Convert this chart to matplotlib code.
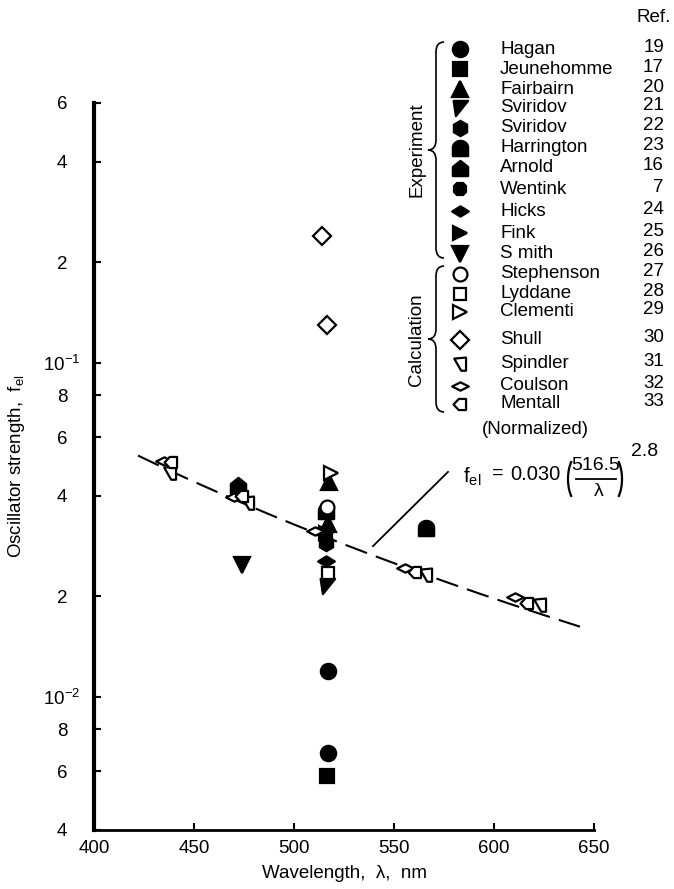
import numpy as np
import matplotlib
matplotlib.use("Agg")
import matplotlib.pyplot as plt
from matplotlib.path import Path
from matplotlib.patches import PathPatch, Arc

plt.rcParams['font.family'] = ['Liberation Sans', 'DejaVu Sans']
plt.rcParams['mathtext.fontset'] = 'custom'
plt.rcParams['mathtext.rm'] = 'Liberation Sans'
plt.rcParams['mathtext.it'] = 'Liberation Sans'

# ---------------- data: wavelength (nm) and oscillator strength ----------------
hagan_wl = [517, 517]
hagan_f = [0.0120, 0.0068]
jeunehomme_wl = [516.5]
jeunehomme_f = [0.0058]
fairbairn_wl = [517.5, 517]
fairbairn_f = [0.044, 0.033]
sviridov21_wl = [516.5]
sviridov21_f = [0.0215]
sviridov22_wl = [516]
sviridov22_f = [0.0290]
harrington_wl = [516, 566]
harrington_f = [0.036, 0.032]
arnold_wl = [472]
arnold_f = [0.043]
wentink_wl = [516]
wentink_f = [0.030]
hicks_wl = [516]
hicks_f = [0.0255]
fink_wl = [516]
fink_f = [0.031]
smith_wl = [474]
smith_f = [0.0248]

stephenson_wl = [516.5]
stephenson_f = [0.037]
lyddane_wl = [517]
lyddane_f = [0.0235]
clementi_wl = [518.5]
clementi_f = [0.047]
shull_wl = [514, 516.5]
shull_f = [0.24, 0.13]
spindler_wl = [438, 477, 566, 623]
spindler_f = [0.047, 0.038, 0.0232, 0.0188]
coulson_wl = [435, 470, 510.5, 555.5, 610.5]
coulson_f = [0.051, 0.0397, 0.0314, 0.0243, 0.0199]
mentall_wl = [438.5, 474, 560.5, 616.5]
mentall_f = [0.0505, 0.0400, 0.0237, 0.0191]

fit_coef = 0.030
fit_ref_wl = 516.5
fit_exp = 2.8
fit_range = [422, 643]

x_ticks = [400, 450, 500, 550, 600, 650]
y_ticks = [0.004, 0.006, 0.008, 0.01, 0.02, 0.04, 0.06, 0.08, 0.1, 0.2, 0.4, 0.6]
y_labels = ['4', '6', '8', r'$10^{-2}$', '2', '4', '6', '8', r'$10^{-1}$', '2', '4', '6']

# ---------------- marker shapes ----------------
def poly(pts):
    pts = list(pts) + [pts[0]]
    codes = [Path.MOVETO] + [Path.LINETO] * (len(pts) - 2) + [Path.CLOSEPOLY]
    return Path(pts, codes)

t = np.linspace(0, np.pi, 20)
dome = poly([(1, -1)] + [(np.cos(a), 0.1 + 0.9 * np.sin(a)) for a in t] + [(-1, -1)])
house = poly([(-1, -1), (1, -1), (1, 0.2), (0, 1), (-1, 0.2)])
rtri = poly([(-0.9, 1), (1, 1), (-0.6, -1)])
flat_diamond = poly([(-1, 0), (0, 0.62), (1, 0), (0, -0.62)])
wide_diamond = poly([(-1, 0), (0, 0.5), (1, 0), (0, -0.5)])
pent_left = poly([(-1, 0), (-0.25, 0.8), (0.8, 0.8), (0.8, -0.8), (-0.25, -0.8)])
spindler_m = poly([(-0.9, 0.85), (0.8, 1), (0.8, -0.9), (0.1, -0.9)])

MS = 11

series = [
    # (wl, f, marker, filled, label, ref, size)
    (hagan_wl, hagan_f, 'o', True, 'Hagan', '19', MS),
    (jeunehomme_wl, jeunehomme_f, 's', True, 'Jeunehomme', '17', MS - 1),
    (fairbairn_wl, fairbairn_f, '^', True, 'Fairbairn', '20', MS),
    (sviridov21_wl, sviridov21_f, rtri, True, 'Sviridov', '21', MS),
    (sviridov22_wl, sviridov22_f, 'h', True, 'Sviridov', '22', MS),
    (harrington_wl, harrington_f, dome, True, 'Harrington', '23', MS),
    (arnold_wl, arnold_f, house, True, 'Arnold', '16', MS),
    (wentink_wl, wentink_f, '8', True, 'Wentink', '7', MS - 1),
    (hicks_wl, hicks_f, flat_diamond, True, 'Hicks', '24', MS + 1),
    (fink_wl, fink_f, '>', True, 'Fink', '25', MS - 1),
    (smith_wl, smith_f, 'v', True, 'S mith', '26', MS),
    (stephenson_wl, stephenson_f, 'o', False, 'Stephenson', '27', MS - 1),
    (lyddane_wl, lyddane_f, 's', False, 'Lyddane', '28', MS - 2),
    (clementi_wl, clementi_f, '>', False, 'Clementi', '29', MS - 1),
    (shull_wl, shull_f, 'D', False, 'Shull', '30', MS - 2),
    (spindler_wl, spindler_f, spindler_m, False, 'Spindler', '31', MS - 1),
    (coulson_wl, coulson_f, wide_diamond, False, 'Coulson', '32', MS + 1),
    (mentall_wl, mentall_f, pent_left, False, 'Mentall', '33', MS - 1),
]

# ---------------- figure ----------------
fig = plt.figure(figsize=(6.74, 8.89), dpi=100)
ax = fig.add_axes([94 / 674, 59 / 889, 500 / 674, 727 / 889])
ax.set_yscale('log')
ax.set_xlim(400, 650)
ax.set_ylim(0.004, 0.6)

for side in ('top', 'right'):
    ax.spines[side].set_visible(False)
ax.spines['left'].set_linewidth(3.0)
ax.spines['bottom'].set_linewidth(2.0)

ax.set_xticks(x_ticks)
ax.set_xticklabels([str(v) for v in x_ticks])
ax.yaxis.set_major_locator(matplotlib.ticker.FixedLocator(y_ticks))
ax.yaxis.set_minor_locator(matplotlib.ticker.NullLocator())
ax.set_yticklabels(y_labels)
ax.tick_params(axis='both', direction='in', length=5, width=1.5, labelsize=13.5)
ax.tick_params(axis='x', pad=7)
ax.tick_params(axis='y', pad=23)
for lab in ax.get_yticklabels():
    lab.set_horizontalalignment('center')

ax.set_xlabel('Wavelength,  \u03bb,  nm', fontsize=13.5, labelpad=6)
ax.set_ylabel(r'Oscillator strength,  f$_{\rm el}$', fontsize=13.5, labelpad=12)

# fitted power law
wl_fit = np.linspace(fit_range[0], fit_range[1], 200)
f_fit = fit_coef * (fit_ref_wl / wl_fit) ** fit_exp
ln, = ax.plot(wl_fit, f_fit, color='black', lw=1.5, zorder=1)
ln.set_dashes([11, 4.5])

for wl, f, m, filled, label, ref, ms in series:
    ax.plot(wl, f, linestyle='none', marker=m, markersize=ms,
            markerfacecolor='black' if filled else 'white',
            markeredgecolor='black', markeredgewidth=1.6, zorder=3 if not filled else 2,
            clip_on=False)

# leader from the formula to the fitted line
ax.plot([539.5, 577], [0.0283, 0.0472], color='black', lw=1.3)

# ---------------- legend / annotation overlay in pixel coordinates ----------------
ov = fig.add_axes([0, 0, 1, 1], facecolor='none')
ov.set_xlim(0, 674)
ov.set_ylim(889, 0)
ov.axis('off')

# formula  f_el = 0.030 (516.5 / lambda)^2.8
ov.text(463, 477, r'$\mathrm{f_{el}}$', fontsize=15, ha='left', va='center')
ov.text(492, 473, '=', fontsize=14, ha='left', va='center')
ov.text(510, 474, '0.030', fontsize=14.5, ha='left', va='center')
ov.add_patch(Arc((580, 479), 24, 50, theta1=115, theta2=245, lw=1.6, color='black'))
ov.add_patch(Arc((610, 479), 24, 50, theta1=-65, theta2=65, lw=1.6, color='black'))
ov.text(596, 466, '516.5', fontsize=14, ha='center', va='center')
ov.plot([576, 616], [478.5, 478.5], color='black', lw=1.3)
ov.text(599, 491, '\u03bb', fontsize=14, ha='center', va='center')
ov.text(631, 452, '2.8', fontsize=14, ha='left', va='center')

ov.text(654, 17, 'Ref.', fontsize=13.5, ha='center', va='center')
exp_rows = [49, 69, 89, 108, 128, 148, 168, 189, 211, 233, 254]
calc_rows = [274, 294, 312, 340, 364, 386, 404]
rows = exp_rows + calc_rows
for (wl, f, m, filled, label, ref, ms), y in zip(series, rows):
    ov.plot([460], [y], linestyle='none', marker=m, markersize=ms,
            markerfacecolor='black' if filled else 'white',
            markeredgecolor='black', markeredgewidth=1.6)
    ov.text(500, y, label, fontsize=13.5, ha='left', va='center')
    ov.text(664, y - 2, ref, fontsize=13.5, ha='right', va='center')
ov.text(535, 430, '(Normalized)', fontsize=13.5, ha='center', va='center')


def brace(x, y0, y1, depth=8):
    ym = 0.5 * (y0 + y1)
    verts = [(x + depth, y0), (x, y0), (x, y0 + 10),
             (x, ym - 10), (x, ym), (x - depth, ym),
             (x, ym), (x, ym + 10),
             (x, y1 - 10), (x, y1), (x + depth, y1)]
    codes = [Path.MOVETO, Path.CURVE3, Path.CURVE3,
             Path.LINETO, Path.CURVE3, Path.CURVE3,
             Path.CURVE3, Path.CURVE3,
             Path.LINETO, Path.CURVE3, Path.CURVE3]
    ov.add_patch(PathPatch(Path(verts, codes), fill=False, lw=1.2, color='black'))


brace(436, 42, 258)
brace(436, 266, 412)
ov.text(417, 150, 'Experiment', rotation=90, fontsize=13.5, ha='center', va='center')
ov.text(417, 340, 'Calculation', rotation=90, fontsize=13.5, ha='center', va='center')

fig.savefig('out.png', dpi=100)
